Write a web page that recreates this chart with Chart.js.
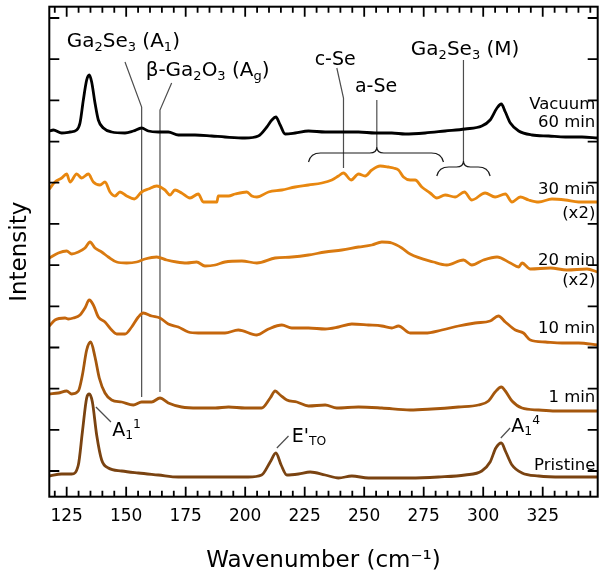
<!DOCTYPE html>
<html>
<head>
<meta charset="utf-8">
<script src="https://cdn.jsdelivr.net/npm/chart.js@4.4.1/dist/chart.umd.min.js"></script>
<style>
  html, body { margin: 0; padding: 0; background: #fff; }
</style>
</head>
<body>
<canvas id="raman" width="599" height="575"></canvas>
<script>
// Raman spectra, stacked. x = wavenumber (cm-1), y = offset intensity (a.u.)
const vacuumX = [117.7, 119.4, 122.9, 126.4, 129.2, 130.6, 132.0, 133.4, 134.5, 135.5, 136.9, 138.3, 140.4, 143.9, 149.5, 153.0, 156.5, 159.3, 163.5, 167.7, 171.9, 178.9, 185.9, 191.5, 199.9, 205.5, 209.1, 211.2, 212.9, 214.7, 216.8, 221.0, 226.6, 233.6, 240.6, 247.6, 254.6, 261.6, 267.2, 275.6, 284.0, 292.4, 299.4, 302.9, 305.8, 307.6, 309.3, 311.4, 314.9, 320.5, 327.5, 334.5, 341.5, 348];
const vacuumY = [340, 341, 338, 339, 341, 348, 371, 391, 396, 389, 368, 351, 343, 339, 338, 340, 343, 340, 339, 339, 336, 336, 335, 334, 333, 335, 344, 351, 354, 346, 337, 338, 340, 339, 339, 339, 338, 338, 337, 338, 340, 342, 345, 351, 363, 367, 359, 348, 340, 336, 335, 334, 334, 333];

const min30X = [117.7, 120.1, 122.9, 125.0, 126.4, 129.2, 131.3, 134.1, 136.2, 139.0, 141.1, 143.2, 145.3, 147.4, 150.2, 153.4, 156.5, 159.3, 162.8, 166.3, 168.4, 170.5, 173.3, 176.8, 180.3, 182.4, 185.9, 188.1, 188.7, 193.0, 195.8, 200.7, 202.8, 204.9, 209.8, 215.4, 221.0, 226.6, 232.2, 236.4, 239.2, 241.3, 244.5, 247.6, 250.4, 253.2, 256.7, 260.2, 262.3, 264.4, 266.5, 269.3, 271.4, 274.2, 277.7, 280.5, 284.0, 288.2, 292.1, 295.2, 300.8, 305.0, 309.3, 312.1, 315.6, 319.1, 323.3, 328.9, 334.5, 340.1, 348];
const min30Y = [282, 289, 293, 297, 289, 297, 293, 297, 289, 286, 289, 279, 275, 279, 275, 272, 279, 282, 285, 281, 276, 281, 278, 273, 277, 269, 269, 269, 275, 275, 277, 279, 275, 274, 279, 281, 284, 286, 288, 291, 295, 298, 291, 297, 295, 301, 305, 304, 303, 301, 294, 291, 291, 284, 278, 273, 276, 274, 279, 271, 278, 274, 277, 269, 274, 271, 269, 272, 271, 269, 269];

const min20X = [117.7, 121.5, 125.0, 127.1, 129.9, 132.7, 134.8, 136.9, 139.7, 142.5, 146.0, 150.2, 154.4, 157.9, 162.8, 167.0, 171.2, 175.4, 179.6, 183.1, 187.4, 191.5, 198.6, 204.9, 212.6, 219.6, 226.6, 233.6, 240.6, 247.6, 253.2, 257.4, 261.6, 265.8, 269.3, 279.1, 284.7, 291.7, 295.2, 300.1, 305.8, 311.4, 314.9, 316.3, 319.8, 328.2, 335.2, 343.6, 348];
const min20Y = [213, 218, 220, 217, 219, 223, 229, 223, 219, 214, 209, 208, 209, 212, 214, 211, 209, 208, 209, 205, 206, 209, 210, 208, 213, 214, 216, 219, 221, 224, 226, 229, 228, 223, 217, 209, 206, 211, 206, 211, 214, 208, 204, 208, 202, 203, 201, 202, 199];

const min10X = [117.7, 120.1, 124.3, 125.7, 127.8, 130.6, 132.7, 134.5, 136.2, 138.3, 141.1, 143.9, 146.0, 149.5, 152.3, 155.1, 157.2, 160.7, 164.2, 167.7, 171.9, 176.1, 180.3, 185.9, 191.5, 197.1, 204.9, 209.8, 215.4, 219.6, 226.6, 233.6, 239.2, 244.8, 251.8, 257.4, 261.6, 264.4, 269.3, 275.6, 282.6, 289.6, 296.6, 302.9, 306.4, 309.3, 313.5, 316.9, 319.8, 326.1, 333.1, 340.1, 348];
const min10Y = [145, 151, 153, 152, 153, 156, 163, 171, 166, 154, 149, 141, 137, 137, 144, 154, 158, 155, 153, 147, 144, 139, 138, 138, 138, 141, 136, 142, 146, 143, 143, 142, 144, 147, 146, 145, 143, 145, 138, 138, 141, 145, 148, 150, 155, 149, 141, 138, 131, 129, 128, 128, 126];

const min1X = [117.7, 121.5, 125.0, 127.1, 129.9, 131.6, 133.4, 135.1, 136.9, 138.7, 141.1, 143.9, 148.1, 153.0, 156.5, 160.7, 164.2, 167.7, 173.3, 180.3, 187.4, 193.0, 199.9, 206.9, 210.5, 212.6, 214.7, 217.5, 221.7, 226.6, 233.6, 238.5, 247.6, 257.4, 269.3, 278.4, 289.6, 298.0, 302.2, 305.0, 307.6, 309.3, 312.1, 316.3, 323.3, 330.3, 337.3, 348];
const min1Y = [77, 78, 80, 77, 80, 96, 121, 129, 114, 93, 78, 71, 69, 66, 69, 69, 73, 68, 64, 63, 63, 64, 63, 63, 73, 80, 76, 71, 69, 65, 66, 63, 64, 63, 61, 62, 64, 66, 70, 79, 84, 80, 70, 63, 61, 60, 60, 60];

const pristineX = [117.7, 122.9, 127.1, 129.9, 131.6, 133.4, 134.5, 135.8, 137.6, 139.7, 142.5, 148.1, 155.1, 163.5, 171.9, 181.7, 193.0, 201.3, 206.9, 210.5, 212.9, 215.1, 217.5, 222.4, 227.3, 233.6, 239.2, 244.8, 251.8, 261.6, 269.3, 281.2, 292.4, 299.4, 302.9, 305.3, 307.6, 309.5, 312.1, 316.3, 323.3, 333.1, 348];
const pristineY = [-5, -3, -3, 6, 39, 73, 77, 69, 36, 11, 3, 0, -2, -4, -6, -6, -6, -6, -4, 9, 18, 6, -4, -3, -1, -4, -7, -5, -7, -7, -7, -6, -4, 0, 9, 23, 28, 19, 6, -2, -5, -6, -6];

const xTicks = [125, 150, 175, 200, 225, 250, 275, 300, 325];
const yTicks = [0, 41.2, 82.4, 123.5, 164.7, 205.9, 247.1, 288.3, 329.4, 370.6, 411.8, 453];

const FONT = "'DejaVu Sans', Verdana, sans-serif";
Chart.defaults.font.family = FONT;
Chart.defaults.color = '#000';

const series = [
  { name: ['Vacuum', '60 min'], nameY: [366, 348], x: vacuumX, y: vacuumY, color: '#000000' },
  { name: ['30 min', '(x2)'], nameY: [281, 257.5], x: min30X, y: min30Y, color: '#e8870f' },
  { name: ['20 min', '(x2)'], nameY: [210, 190], x: min20X, y: min20Y, color: '#d97a10' },
  { name: ['10 min'], nameY: [142], x: min10X, y: min10Y, color: '#c5660c' },
  { name: ['1 min'], nameY: [73], x: min1X, y: min1Y, color: '#a4570d' },
  { name: ['Pristine'], nameY: [5], x: pristineX, y: pristineY, color: '#7a4311' }
];

// annotation guides, in data units
const guides = [
  [[149.5, 409], [156.5, 364], [156.5, 74]],
  [[169.1, 388], [164.2, 361], [164.2, 79]],
  [[238.5, 403], [241.3, 373], [241.3, 303]],
  [[255.3, 371], [255.3, 324]],
  [[291.7, 411], [291.7, 310]],
  [[137.3, 64], [143.6, 49]],
  [[213.3, 23], [218.2, 35]],
  [[307.4, 33], [311.3, 43]]
];
const braces = [
  { from: 226.6, to: 283.3, tip: 255.3, flat: 318, end: 309, top: 324 },
  { from: 280.5, to: 302.9, tip: 291.7, flat: 304, end: 295, top: 310 }
];
const notes = [
  { parts: [['Ga'], ['2', 'sub'], ['Se'], ['3', 'sub'], [' (A'], ['1', 'sub'], [')']], x: 148.8, y: 429, align: 'center', size: 20 },
  { parts: [['β-Ga'], ['2', 'sub'], ['O'], ['3', 'sub'], [' (A'], ['g', 'sub'], [')']], x: 184.2, y: 400, align: 'center', size: 20 },
  { parts: [['c-Se']], x: 237.8, y: 411, align: 'center', size: 19 },
  { parts: [['a-Se']], x: 255.0, y: 384, align: 'center', size: 19 },
  { parts: [['Ga'], ['2', 'sub'], ['Se'], ['3', 'sub'], [' (M)']], x: 292.4, y: 421, align: 'center', size: 20 },
  { parts: [['A'], ['1', 'sub'], ['1', 'sup']], x: 144.1, y: 40, align: 'left', size: 19 },
  { parts: [["E'"], ['TO', 'sub']], x: 219.6, y: 34, align: 'left', size: 19 },
  { parts: [['A'], ['1', 'sub'], ['4', 'sup']], x: 311.8, y: 44, align: 'left', size: 19 }
];

function richText(ctx, parts, x, y, size, align) {
  const small = size * 0.65;
  const widths = parts.map(([t, kind]) => {
    ctx.font = (kind ? small : size) + 'px ' + FONT;
    return ctx.measureText(t).width;
  });
  const total = widths.reduce((a, b) => a + b, 0);
  let cx = align === 'center' ? x - total / 2 : align === 'right' ? x - total : x;
  ctx.textAlign = 'left';
  ctx.textBaseline = 'middle';
  parts.forEach(([t, kind], i) => {
    ctx.font = (kind ? small : size) + 'px ' + FONT;
    const dy = kind === 'sub' ? size * 0.27 : kind === 'sup' ? -size * 0.33 : 0;
    ctx.fillText(t, cx, y + dy);
    cx += widths[i];
  });
}

const decor = {
  id: 'decor',
  beforeDatasetsDraw(chart) {
    const { ctx } = chart;
    const xs = chart.scales.x, ys = chart.scales.y;
    ctx.save();
    ctx.strokeStyle = '#4d4d4d';
    ctx.lineWidth = 1.2;
    guides.forEach(pts => {
      ctx.beginPath();
      pts.forEach(([vx, vy], i) => {
        const px = xs.getPixelForValue(vx), py = ys.getPixelForValue(vy);
        i ? ctx.lineTo(px, py) : ctx.moveTo(px, py);
      });
      ctx.stroke();
    });
    ctx.strokeStyle = '#1a1a1a';
    braces.forEach(b => {
      const x1 = xs.getPixelForValue(b.from), x2 = xs.getPixelForValue(b.to);
      const xm = xs.getPixelForValue(b.tip);
      const yf = ys.getPixelForValue(b.flat), ye = ys.getPixelForValue(b.end);
      const yt = ys.getPixelForValue(b.top);
      const r = 12, rt = 7;
      ctx.beginPath();
      ctx.moveTo(x1, ye);
      ctx.quadraticCurveTo(x1 + 2, yf, x1 + r, yf);
      ctx.lineTo(xm - rt, yf);
      ctx.quadraticCurveTo(xm, yf, xm, yt);
      ctx.quadraticCurveTo(xm, yf, xm + rt, yf);
      ctx.lineTo(x2 - r, yf);
      ctx.quadraticCurveTo(x2 - 2, yf, x2, ye);
      ctx.stroke();
    });
    ctx.restore();
  },
  afterDatasetsDraw(chart) {
    const { ctx, chartArea: a } = chart;
    const xs = chart.scales.x, ys = chart.scales.y;
    ctx.save();
    ctx.strokeStyle = '#000';
    ctx.lineWidth = 1.8;
    ctx.beginPath();
    for (let v = 120; v <= 345; v += 5) {
      const px = xs.getPixelForValue(v);
      const len = v % 25 === 0 ? 10 : 6;
      ctx.moveTo(px, a.bottom); ctx.lineTo(px, a.bottom - len);
      ctx.moveTo(px, a.top); ctx.lineTo(px, a.top + len);
    }
    ys.ticks.forEach(t => {
      const py = ys.getPixelForValue(t.value);
      ctx.moveTo(a.left, py); ctx.lineTo(a.left + 10, py);
      ctx.moveTo(a.right, py); ctx.lineTo(a.right - 10, py);
    });
    ctx.stroke();
    ctx.lineWidth = 2;
    ctx.strokeRect(a.left, a.top, a.right - a.left, a.bottom - a.top);

    ctx.fillStyle = '#000';
    notes.forEach(n => richText(ctx, n.parts, xs.getPixelForValue(n.x), ys.getPixelForValue(n.y), n.size, n.align));
    const right = xs.getPixelForValue(347.1);
    series.forEach(s => s.name.forEach((t, i) =>
      richText(ctx, [[t]], right, ys.getPixelForValue(s.nameY[i]), 16.5, 'right')));
    ctx.restore();
  }
};

new Chart('raman', {
  type: 'line',
  data: {
    datasets: series.map(s => ({
      label: s.name.join(' '),
      data: s.x.map((x, i) => ({ x, y: s.y[i] })),
      borderColor: s.color,
      borderWidth: 2.8,
      pointRadius: 0,
      fill: false,
      cubicInterpolationMode: 'monotone'
    }))
  },
  options: {
    responsive: false,
    animation: false,
    devicePixelRatio: 1,
    layout: { padding: { top: 6.7, right: 1.3, left: 0, bottom: 0 } },
    plugins: { legend: { display: false }, tooltip: { enabled: false } },
    scales: {
      x: {
        type: 'linear',
        min: 117.7,
        max: 348.1,
        grid: { display: false, drawTicks: false },
        border: { display: false },
        afterBuildTicks: s => { s.ticks = xTicks.map(v => ({ value: v })); },
        afterFit: s => { s.height = 78.3; },
        ticks: { padding: 9.5, font: { size: 17 }, maxRotation: 0, autoSkip: false },
        title: { display: true, text: 'Wavenumber (cm⁻¹)', font: { size: 23 }, padding: { top: 0, bottom: 0 } }
      },
      y: {
        min: -25.7,
        max: 464.3,
        grid: { display: false, drawTicks: false },
        border: { display: false },
        afterBuildTicks: s => { s.ticks = yTicks.map(v => ({ value: v })); },
        afterFit: s => { s.width = 49.3; },
        ticks: { display: false },
        title: { display: true, text: 'Intensity', font: { size: 23 }, padding: { top: 6, bottom: 0 } }
      }
    }
  },
  plugins: [decor]
});
</script>
</body>
</html>
